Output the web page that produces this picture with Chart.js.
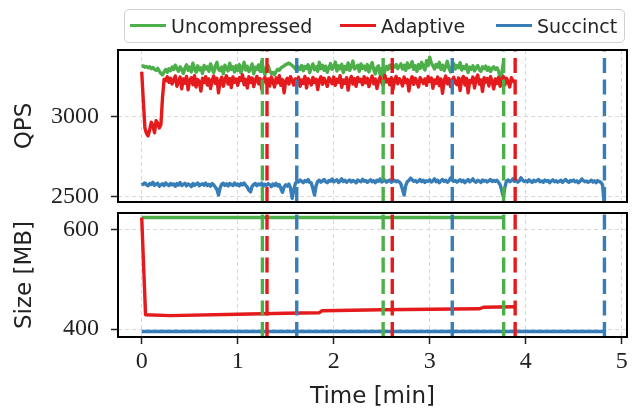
<!DOCTYPE html>
<html lang="en">
<head>
<meta charset="UTF-8">
<title>QPS and size over time</title>
<script src="https://cdn.jsdelivr.net/npm/chart.js"></script>
<style>
  body { margin: 0; background: #fff; }
  #wrap { position: relative; width: 633px; height: 411px; }
  #top { position: absolute; left: 0; top: 0; width: 633px; height: 208px; }
  #bottom { position: absolute; left: 0; top: 208px; width: 633px; height: 203px; }
  #legend {
    position: absolute; left: 124px; top: 9px; width: 501px; height: 34px;
    box-sizing: border-box; border: 1.5px solid #d0d0d0; border-radius: 5px;
    background: #fff; font-family: "DejaVu Sans"; font-size: 19px; color: #262626;
  }
  .item { position: absolute; top: 0; height: 31px; display: flex; align-items: center; white-space: nowrap; }
  .swatch { width: 36px; height: 3.5px; margin-right: 5px; }
</style>
</head>
<body>
<div id="wrap">
  <div id="top"><canvas id="qpsChart"></canvas></div>
  <div id="bottom"><canvas id="sizeChart"></canvas></div>
  <div id="legend"></div>
</div>

<script>
  const seriesNames = ['Uncompressed', 'Adaptive', 'Succinct'];
  const seriesColors = ['#4daf4a', '#e41a1c', '#377eb8'];
  const sampleStep = 1 / 60; // minutes between QPS samples (1 s)

  // QPS samples, one every sampleStep
  const qpsUncompressed = [
    3315, 3318, 3310, 3314, 3306, 3312, 3300, 3308, 3296, 3290, 3302, 3285, 3270, 3262, 3280, 3295, 3278, 3300, 3288, 3310,
    3295, 3322, 3300, 3284, 3312, 3296, 3270, 3305, 3325, 3290, 3310, 3280, 3335, 3300, 3278, 3318, 3292, 3306, 3270, 3320,
    3298, 3312, 3284, 3330, 3302, 3275, 3316, 3340, 3295, 3288, 3310, 3268, 3322, 3300, 3286, 3334, 3296, 3312, 3280, 3318,
    3290, 3326, 3274, 3305, 3340, 3292, 3315, 3282, 3300, 3330, 3268, 3310, 3296, 3324, 3284, 3346, 3298, 3262, 3306, 3320,
    3288, 3270, 3276, 3262, 3284, 3296, 3290, 3305, 3312, 3318, 3326, 3330, 3335, 3328, 3320, 3312, 3300, 3285, 3310, 3296,
    3320, 3288, 3314, 3302, 3325, 3276, 3308, 3330, 3294, 3312, 3284, 3340, 3300, 3322, 3290, 3316, 3278, 3304, 3332, 3296,
    3310, 3342, 3286, 3318, 3300, 3328, 3276, 3314, 3296, 3336, 3290, 3312, 3348, 3298, 3306, 3322, 3284, 3330, 3302, 3316,
    3292, 3326, 3280, 3312, 3338, 3296, 3268, 3308, 3318, 3262, 3300, 3250, 3290, 3314, 3296, 3322, 3304, 3318, 3310, 3326,
    3300, 3316, 3330, 3298, 3322, 3290, 3336, 3306, 3314, 3344, 3296, 3318, 3284, 3326, 3302, 3340, 3310, 3292, 3350, 3320,
    3372, 3336, 3318, 3298, 3326, 3310, 3340, 3296, 3322, 3288, 3316, 3346, 3302, 3280, 3314, 3332, 3298, 3320, 3306, 3338,
    3292, 3314, 3300, 3324, 3276, 3310, 3296, 3318, 3286, 3306, 3320, 3294, 3284, 3312, 3300, 3316, 3290, 3308, 3282, 3302,
    3312, 3296, 3306, 3286, 3240, 3262, 3338
  ];
  const qpsAdaptive = [
    3281, 3100, 2930, 2895, 2880, 2920, 2965, 2945, 2900, 2975, 2960, 2930, 2950, 3120, 3235, 3225, 3250, 3215, 3240, 3205,
    3230, 3255, 3190, 3222, 3248, 3175, 3236, 3210, 3252, 3168, 3228, 3244, 3200, 3256, 3186, 3232, 3218, 3160, 3240, 3214,
    3250, 3198, 3236, 3176, 3226, 3254, 3208, 3240, 3150, 3222, 3246, 3190, 3232, 3256, 3204, 3238, 3182, 3248, 3216, 3236,
    3196, 3244, 3226, 3262, 3200, 3234, 3180, 3250, 3214, 3242, 3188, 3230, 3252, 3206, 3238, 3172, 3228, 3246, 3210, 3236,
    3192, 3248, 3220, 3186, 3242, 3212, 3256, 3196, 3232, 3150, 3224, 3240, 3204, 3250, 3228, 3198, 3236, 3214, 3246, 3190,
    3230, 3208, 3252, 3180, 3238, 3222, 3198, 3246, 3214, 3234, 3170, 3228, 3250, 3202, 3240, 3218, 3190, 3244, 3226, 3206,
    3248, 3196, 3234, 3216, 3256, 3184, 3230, 3210, 3244, 3166, 3226, 3252, 3204, 3238, 3190, 3246, 3220, 3234, 3200, 3250,
    3212, 3240, 3188, 3228, 3254, 3206, 3236, 3176, 3222, 3248, 3214, 3196, 3258, 3218, 3234, 3200, 3244, 3168, 3230, 3252,
    3206, 3238, 3222, 3192, 3248, 3214, 3232, 3160, 3226, 3250, 3202, 3240, 3218, 3186, 3244, 3228, 3208, 3236, 3196, 3252,
    3220, 3242, 3178, 3230, 3210, 3248, 3194, 3236, 3146, 3224, 3254, 3206, 3238, 3188, 3228, 3246, 3212, 3200, 3242, 3164,
    3232, 3252, 3198, 3240, 3150, 3226, 3214, 3248, 3180, 3236, 3260, 3204, 3230, 3158, 3244, 3216, 3238, 3192, 3250, 3222,
    3174, 3236, 3208, 3246, 3190, 3232, 3252, 3200, 3240, 3218, 3186, 3244, 3226, 3212
  ];
  const qpsSuccinct = [
    2572, 2580, 2586, 2574, 2568, 2582, 2576, 2590, 2571, 2579, 2584, 2566, 2575, 2581, 2570, 2586, 2577, 2569, 2583, 2574,
    2579, 2565, 2582, 2573, 2588, 2570, 2577, 2584, 2568, 2580, 2575, 2563, 2583, 2571, 2578, 2586, 2569, 2576, 2581, 2572,
    2585, 2570, 2578, 2566, 2582, 2574, 2560, 2545, 2510, 2555, 2578, 2584, 2571, 2580, 2567, 2583, 2575, 2570, 2586, 2573,
    2579, 2568, 2582, 2574, 2586, 2571, 2560, 2540, 2530, 2565, 2577, 2583, 2569, 2580, 2574, 2585, 2566, 2578, 2571, 2582,
    2575, 2563, 2580, 2570, 2584, 2567, 2576, 2550, 2528, 2562, 2574, 2566, 2579, 2555, 2490, 2540, 2582, 2598, 2592, 2604,
    2596, 2588, 2601, 2594, 2607, 2590, 2585, 2550, 2510, 2570, 2596, 2603, 2591, 2599, 2608, 2594, 2588, 2602, 2597, 2610,
    2593, 2600, 2606, 2589, 2598, 2612, 2595, 2603, 2590, 2599, 2605, 2592, 2601, 2596, 2587, 2604, 2598, 2593, 2609, 2597,
    2602, 2590, 2597, 2606, 2594, 2600, 2588, 2603, 2596, 2611, 2592, 2599, 2605, 2591, 2598, 2604, 2590, 2597, 2603, 2594,
    2600, 2592, 2580, 2545, 2510, 2570, 2595, 2602, 2616, 2606, 2596, 2601, 2591, 2598, 2607, 2594, 2603, 2589, 2600, 2596,
    2605, 2592, 2599, 2612, 2594, 2602, 2588, 2600, 2608, 2595, 2603, 2590, 2598, 2617, 2604, 2596, 2601, 2591, 2599, 2606,
    2594, 2602, 2588, 2598, 2607, 2593, 2600, 2612, 2596, 2591, 2603, 2598, 2589, 2605, 2597, 2602, 2592, 2600, 2608, 2595,
    2601, 2596, 2603, 2590, 2575, 2540, 2500, 2560, 2598, 2605, 2594, 2600, 2612, 2596, 2603, 2591, 2599, 2618, 2604, 2595,
    2600, 2592, 2606, 2597, 2589, 2603, 2595, 2601, 2608, 2593, 2599, 2590, 2604, 2597, 2602, 2588, 2598, 2606, 2594, 2600,
    2591, 2597, 2603, 2589, 2600, 2608, 2595, 2590, 2602, 2597, 2604, 2593, 2599, 2587, 2596, 2611, 2601, 2594, 2598, 2590,
    2596, 2603, 2592, 2599, 2588, 2601, 2594, 2590, 2575, 2465
  ];

  // memory size [MB], sampled where it changes
  const sizeTimeUncompressed = [0, 3.77];
  const sizeUncompressed = [625, 625];
  const sizeTimeAdaptive = [0, 0.04, 0.3, 1.0, 1.5, 1.85, 1.88, 2.5, 3.0, 3.52, 3.56, 3.89];
  const sizeAdaptive = [625, 429, 427, 430, 432, 433, 437, 439, 440, 441, 444, 445];
  const sizeTimeSuccinct = [0, 4.82];
  const sizeSuccinct = [395, 395];

  // phase boundaries, drawn as dashed vertical lines
  const marksUncompressed = [1.257, 2.515, 3.77];
  const marksAdaptive = [1.305, 2.61, 3.89];
  const marksSuccinct = [1.615, 3.235, 4.82];

  const timeTicks = [0, 1, 2, 3, 4, 5];
  const qpsTicks = [2500, 3000];
  const sizeTicks = [400, 600];
  const timeRange = [-0.247, 5.055];
  const qpsRange = [2467, 3417];
  const sizeRange = [384, 634];

  // legend (html, matplotlib style box)
  const legendLeft = [5, 215, 371];
  const legend = document.getElementById('legend');
  seriesNames.forEach((name, i) => {
    const item = document.createElement('div');
    item.className = 'item';
    item.style.left = legendLeft[i] + 'px';
    item.innerHTML = '<span class="swatch" style="background:' + seriesColors[i] + '"></span>' + name;
    legend.appendChild(item);
  });

  function points(values, times) {
    return values.map((v, i) => ({ x: times ? times[i] : i * sampleStep, y: v }));
  }

  function series(values, times, i) {
    return {
      data: points(values, times),
      borderColor: seriesColors[i],
      borderWidth: 3.4,
      borderJoinStyle: 'round',
      order: 3 - i
    };
  }

  function markLines(marks, i, range) {
    return marks.map(t => ({
      data: [{ x: t, y: range[0] }, { x: t, y: range[1] }],
      borderColor: seriesColors[i],
      borderWidth: 3.4,
      borderDash: [15, 6.5],
      order: 0
    }));
  }

  function allMarks(range) {
    return [
      ...markLines(marksUncompressed, 0, range),
      ...markLines(marksAdaptive, 1, range),
      ...markLines(marksSuccinct, 2, range)
    ];
  }

  // black box round the plot area
  const frame = {
    id: 'frame',
    afterDatasetsDraw(chart) {
      const a = chart.chartArea, ctx = chart.ctx;
      ctx.save();
      ctx.strokeStyle = '#000';
      ctx.lineWidth = 2;
      ctx.strokeRect(a.left, a.top, a.right - a.left, a.bottom - a.top);
      ctx.restore();
    }
  };

  const gridStyle = { color: '#d9d9d9', lineWidth: 1, tickColor: '#222', tickWidth: 1.5, tickLength: 7, tickBorderDash: [] };
  const tickFont = { family: 'Liberation Serif', size: 24 };
  const titleFont = { family: 'DejaVu Sans', size: 23 };

  function yScale(range, ticks, title) {
    return {
      type: 'linear', min: range[0], max: range[1],
      afterBuildTicks: s => { s.ticks = ticks.map(v => ({ value: v })); },
      // fixed width, and no extra room for the end labels
      afterFit: s => { s.width = 118; s.paddingTop = 0; s.paddingBottom = 0; },
      grid: gridStyle,
      border: { display: false, dash: [4, 3] },
      ticks: { color: '#222', font: tickFont, padding: 12, callback: v => String(v) },
      title: { display: true, text: title, color: '#222', font: titleFont, padding: { top: 11, bottom: 0 } }
    };
  }

  function xScale(showLabels) {
    return {
      type: 'linear', min: timeRange[0], max: timeRange[1],
      afterBuildTicks: s => { s.ticks = timeTicks.map(v => ({ value: v })); },
      afterFit: s => { s.height = showLabels ? 74 : 0; s.paddingLeft = 0; s.paddingRight = 0; },
      grid: Object.assign({}, gridStyle, { drawTicks: showLabels }),
      border: { display: false, dash: [4, 3] },
      ticks: { display: showLabels, color: '#222', font: tickFont, padding: 3, maxRotation: 0, callback: v => String(v) },
      title: { display: showLabels, text: 'Time [min]', color: '#222', font: titleFont, padding: { top: 0, bottom: 0 } }
    };
  }

  const common = {
    responsive: true,
    maintainAspectRatio: false,
    animation: false,
    events: [],
    elements: { point: { radius: 0 }, line: { tension: 0, fill: false } },
    plugins: { legend: { display: false }, tooltip: { enabled: false } }
  };

  new Chart(document.getElementById('qpsChart'), {
    type: 'line',
    data: {
      datasets: [
        series(qpsUncompressed, null, 0),
        series(qpsAdaptive, null, 1),
        series(qpsSuccinct, null, 2),
        ...allMarks(qpsRange)
      ]
    },
    options: Object.assign({}, common, {
      layout: { padding: { left: 0, right: 6, top: 50, bottom: 6 } },
      scales: { x: xScale(false), y: yScale(qpsRange, qpsTicks, 'QPS') }
    }),
    plugins: [frame]
  });

  new Chart(document.getElementById('sizeChart'), {
    type: 'line',
    data: {
      datasets: [
        series(sizeUncompressed, sizeTimeUncompressed, 0),
        series(sizeAdaptive, sizeTimeAdaptive, 1),
        series(sizeSuccinct, sizeTimeSuccinct, 2),
        ...allMarks(sizeRange)
      ]
    },
    options: Object.assign({}, common, {
      layout: { padding: { left: 0, right: 6, top: 5, bottom: 0 } },
      scales: { x: xScale(true), y: yScale(sizeRange, sizeTicks, 'Size [MB]') }
    }),
    plugins: [frame]
  });
</script>
</body>
</html>
